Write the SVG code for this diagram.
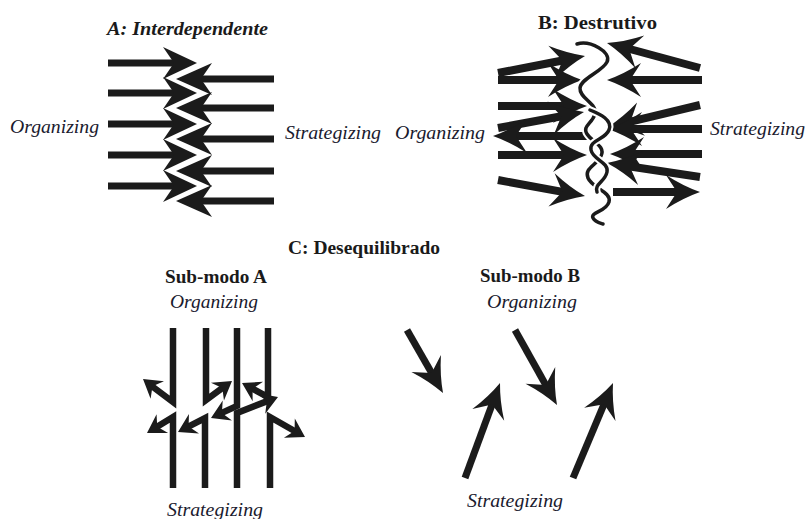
<svg xmlns="http://www.w3.org/2000/svg" xmlns:xlink="http://www.w3.org/1999/xlink" width="806" height="519" viewBox="0 0 806 519">
<style>
.sh{stroke:#1b1b1b;fill:none;stroke-linecap:butt;stroke-linejoin:miter}
.a7{stroke-width:7}
.a8{stroke-width:8}
.a6{stroke-width:6.5}
.t{font-family:"Liberation Serif","Times New Roman",serif;fill:#1a1a1a}
.ti{font-family:"Liberation Serif","Times New Roman",serif;font-style:italic;fill:#1a1a2e;font-size:19px}
.tb{font-weight:bold;font-size:18px}
.wv{fill:none;stroke:#1b1b1b;stroke-width:3.5;stroke-linecap:round}
.wh{fill:none;stroke:#fff;stroke-width:7.5;stroke-linecap:round}
</style>
<defs>
<path id="hR" d="M0,0 L-34,-16 L-23,0 L-34,16Z" fill="#1b1b1b"/>
<path id="hL" d="M0,0 L-36,-16 L-25,0 L-36,16Z" fill="#1b1b1b"/>
<path id="hLe" d="M-37,-16.5 L0,0 L-37,16.5" fill="none" stroke="#fff" stroke-width="4"/>
<path id="h" d="M0,0 Q-17,-6 -34,-17 L-23,0 L-34,17 Q-17,6 0,0Z" fill="#1b1b1b"/>
<path id="hs" d="M0,0 L-18,-11 L-12,0 L-18,11Z" fill="#1b1b1b"/>
</defs>
<rect width="806" height="519" fill="#fff"/>

<g id="panelA">
<text class="t tb" x="107" y="35" font-style="italic" textLength="161" lengthAdjust="spacingAndGlyphs">A: Interdependente</text>
<text class="ti" x="10" y="133" textLength="89" lengthAdjust="spacingAndGlyphs">Organizing</text>
<text class="ti" x="285" y="139" textLength="96" lengthAdjust="spacingAndGlyphs">Strategizing</text>
<g id="A-organizing">
<line class="sh a7" x1="108" y1="63" x2="180" y2="63"/>
<line class="sh a7" x1="108" y1="93" x2="180" y2="93"/>
<line class="sh a7" x1="108" y1="124" x2="180" y2="124"/>
<line class="sh a7" x1="108" y1="155" x2="180" y2="155"/>
<line class="sh a7" x1="108" y1="186" x2="180" y2="186"/>
<use href="#hR" transform="translate(197,63)"/>
<use href="#hR" transform="translate(197,93)"/>
<use href="#hR" transform="translate(197,124)"/>
<use href="#hR" transform="translate(197,155)"/>
<use href="#hR" transform="translate(197,186)"/>
</g>
<g id="A-strategizing">
<use href="#hLe" transform="translate(176,79) rotate(180)"/>
<use href="#hLe" transform="translate(176,108) rotate(180)"/>
<use href="#hLe" transform="translate(176,139) rotate(180)"/>
<use href="#hLe" transform="translate(176,171) rotate(180)"/>
<use href="#hLe" transform="translate(176,201) rotate(180)"/>
<line class="sh a7" x1="274" y1="79" x2="198" y2="79"/>
<line class="sh a7" x1="274" y1="108" x2="198" y2="108"/>
<line class="sh a7" x1="274" y1="139" x2="198" y2="139"/>
<line class="sh a7" x1="274" y1="171" x2="198" y2="171"/>
<line class="sh a7" x1="274" y1="201" x2="198" y2="201"/>
<use href="#hL" transform="translate(176,79) rotate(180)"/>
<use href="#hL" transform="translate(176,108) rotate(180)"/>
<use href="#hL" transform="translate(176,139) rotate(180)"/>
<use href="#hL" transform="translate(176,171) rotate(180)"/>
<use href="#hL" transform="translate(176,201) rotate(180)"/>
</g>
</g>

<g id="panelB">
<text class="t tb" x="538" y="29" textLength="119" lengthAdjust="spacingAndGlyphs">B: Destrutivo</text>
<text class="ti" x="395" y="139" textLength="90" lengthAdjust="spacingAndGlyphs">Organizing</text>
<text class="ti" x="710" y="135" textLength="95" lengthAdjust="spacingAndGlyphs">Strategizing</text>
<g id="B-organizing">
<line class="sh a8" x1="498" y1="73" x2="565" y2="60"/>
<use href="#h" transform="translate(585,56) rotate(-11.1)"/>
<line class="sh a8" x1="498" y1="80" x2="562" y2="80"/>
<use href="#h" transform="translate(582,80)"/>
<line class="sh a8" x1="498" y1="106" x2="567" y2="106"/>
<use href="#h" transform="translate(587,106)"/>
<line class="sh a8" x1="498" y1="128" x2="564.3" y2="115.7"/>
<use href="#h" transform="translate(584,112) rotate(-10.5)"/>
<line class="sh a8" x1="587" y1="136" x2="513" y2="136"/>
<use href="#h" transform="translate(493,136) rotate(180)"/>
<line class="sh a8" x1="498" y1="155" x2="567" y2="155"/>
<use href="#h" transform="translate(587,155)"/>
<line class="sh a8" x1="498" y1="180" x2="565.3" y2="192.4"/>
<use href="#h" transform="translate(585,196) rotate(10.4)"/>
</g>
<g id="B-strategizing">
<line class="sh a8" x1="700" y1="68" x2="626" y2="48"/>
<use href="#h" transform="translate(607,43) rotate(-165)"/>
<line class="sh a8" x1="702" y1="80" x2="627" y2="80"/>
<use href="#h" transform="translate(607,80) rotate(180)"/>
<line class="sh a8" x1="700" y1="105" x2="627.5" y2="122.3"/>
<use href="#h" transform="translate(608,127) rotate(166.6)"/>
<line class="sh a8" x1="702" y1="129" x2="628" y2="129"/>
<use href="#h" transform="translate(608,129) rotate(180)"/>
<line class="sh a8" x1="702" y1="154" x2="630" y2="154"/>
<use href="#h" transform="translate(610,154) rotate(180)"/>
<line class="sh a8" x1="700" y1="177" x2="626.8" y2="166"/>
<use href="#h" transform="translate(607,163) rotate(-171.4)"/>
<line class="sh a8" x1="613" y1="192" x2="680" y2="192"/>
<use href="#h" transform="translate(700,192)"/>
</g>
<g id="B-rupture">
<path class="wh" d="M577,44 C590,40 612,52 607,62 C602,72 581,78 580,88 C579,98 598,104 595,114 C592,124 582,126 587,134 C592,142 606,146 601,156 C596,166 584,168 588,178 C592,188 612,192 609,202 C606,212 590,212 593,218 C595,222 600,223 603,224"/>
<path class="wv" d="M577,44 C590,40 612,52 607,62 C602,72 581,78 580,88 C579,98 598,104 595,114 C592,124 582,126 587,134 C592,142 606,146 601,156 C596,166 584,168 588,178 C592,188 612,192 609,202 C606,212 590,212 593,218 C595,222 600,223 603,224"/>
<path class="wh" d="M590,110 C600,114 613,120 609,130 C605,140 589,140 591,150 C593,160 609,162 607,172 C605,182 594,184 597,192"/>
<path class="wv" d="M590,110 C600,114 613,120 609,130 C605,140 589,140 591,150 C593,160 609,162 607,172 C605,182 594,184 597,192"/>
</g>
</g>

<g id="panelC">
<text class="t" x="288" y="254" font-weight="bold" font-size="18.5" textLength="152" lengthAdjust="spacingAndGlyphs">C: Desequilibrado</text>
<g id="submodoA">
<text class="t tb" x="165" y="283" textLength="102" lengthAdjust="spacingAndGlyphs">Sub-modo A</text>
<text class="ti" x="170" y="308" textLength="88" lengthAdjust="spacingAndGlyphs">Organizing</text>
<text class="ti" x="167" y="516" textLength="96" lengthAdjust="spacingAndGlyphs">Strategizing</text>
<g id="SA-organizing">
<polyline class="sh a6" points="173,328 173,402 149,384"/>
<use href="#hs" transform="translate(143,379) rotate(-142.5)"/>
<polyline class="sh a6" points="206,328 206,400 225.5,385.7"/>
<use href="#hs" transform="translate(232,381) rotate(-36.2)"/>
<polyline class="sh a6" points="237,328 237,406 218,414.6"/>
<use href="#hs" transform="translate(211,418) rotate(155.2)"/>
<polyline class="sh a6" points="268,328 268,397 249,386.8"/>
<use href="#hs" transform="translate(242,383) rotate(-151.7)"/>
</g>
<g id="SA-strategizing">
<polyline class="sh a6" points="173,488 173,417 153.8,428.8"/>
<use href="#hs" transform="translate(147,433) rotate(148.4)"/>
<polyline class="sh a6" points="205,488 205,418 185,428.3"/>
<use href="#hs" transform="translate(178,432) rotate(152.6)"/>
<polyline class="sh a6" points="237,488 237,413 270.5,399.9"/>
<use href="#hs" transform="translate(278,397) rotate(-21.3)"/>
<polyline class="sh a6" points="270,488 270,417 298,433"/>
<use href="#hs" transform="translate(305,437) rotate(29.7)"/>
</g>
</g>
<g id="submodoB">
<text class="t tb" x="480" y="282" textLength="100" lengthAdjust="spacingAndGlyphs">Sub-modo B</text>
<text class="ti" x="487" y="308" textLength="90" lengthAdjust="spacingAndGlyphs">Organizing</text>
<text class="ti" x="467" y="507" textLength="96" lengthAdjust="spacingAndGlyphs">Strategizing</text>
<g id="SB-organizing">
<line class="sh a7" x1="407" y1="330" x2="433.1" y2="375.6"/>
<use href="#h" transform="translate(443,393) rotate(60.3)"/>
<line class="sh a7" x1="515" y1="330" x2="547.2" y2="387.5"/>
<use href="#h" transform="translate(557,405) rotate(60.75)"/>
</g>
<g id="SB-strategizing">
<line class="sh a7" x1="465" y1="478" x2="493.1" y2="401.8"/>
<use href="#h" transform="translate(500,383) rotate(-69.8)"/>
<line class="sh a7" x1="573" y1="478" x2="605.2" y2="401.4"/>
<use href="#h" transform="translate(613,383) rotate(-67.2)"/>
</g>
</g>
</g>
</svg>
